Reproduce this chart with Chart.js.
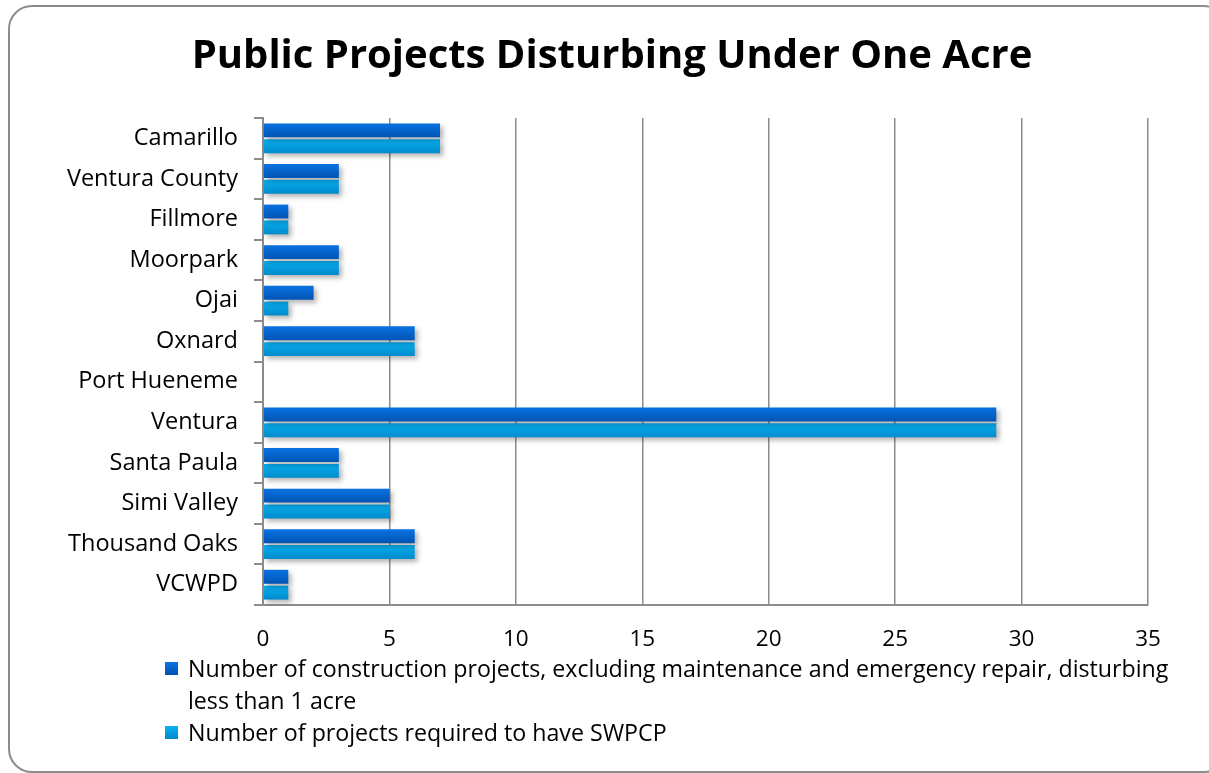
<!DOCTYPE html>
<html>
<head>
<meta charset="utf-8">
<script src="https://cdn.jsdelivr.net/npm/chart.js@4/dist/chart.umd.min.js"></script>
<style>
  html, body { margin: 0; padding: 0; background: #fff; overflow: hidden; }
  #wrap { position: relative; width: 1209px; height: 773px; }
  #frame {
    position: absolute; left: 8px; top: 5px; width: 1216px; height: 764px;
    border: 2px solid #8c8c8c; border-radius: 24px; pointer-events: none;
  }
  #legenda {
    position: absolute; left: 165px; top: 652px; width: 1040px;
    font-family: "Open Sans", "Noto Sans", sans-serif; font-size: 23.2px; color: #000; line-height: 32px;
  }
  .item { display: flex; align-items: flex-start; }
  .caixa { width: 13px; height: 13px; margin-top: 10px; margin-right: 10px; flex: none; }
</style>
</head>
<body>
<div id="wrap">
  <canvas id="Projetos"></canvas>
  <div id="frame"></div>
  <div id="legenda"></div>
</div>
<script>
document.addEventListener('DOMContentLoaded', function () {
var cidades = ["Camarillo", "Ventura County", "Fillmore", "Moorpark", "Ojai", "Oxnard",
    "Port Hueneme", "Ventura", "Santa Paula", "Simi Valley", "Thousand Oaks", "VCWPD"];
var projetosConstrucao = [7, 3, 1, 3, 2, 6, 0, 29, 3, 5, 6, 1];
var projetosSwpcp = [7, 3, 1, 3, 1, 6, 0, 29, 3, 5, 6, 1];
var rotuloConstrucao = "Number of construction projects, excluding maintenance and emergency repair, disturbing less than 1 acre";
var rotuloSwpcp = "Number of projects required to have SWPCP";

var catPct = 0.78;
var fonte = '"Open Sans", "Noto Sans", sans-serif';

// gradiente vertical por barra
function preenchimento(cima, baixo) {
    return function (ctx) {
        var chart = ctx.chart;
        var y = chart.scales.y;
        if (ctx.type !== 'data' || !y || !chart.chartArea) return cima;
        var cat = y.height / cidades.length;
        var centro = y.getPixelForValue(ctx.dataIndex);
        var metade = cat * catPct / 2;
        var y0 = ctx.datasetIndex === 0 ? centro - metade : centro;
        var g = chart.ctx.createLinearGradient(0, y0, 0, y0 + metade);
        g.addColorStop(0, cima);
        g.addColorStop(1, baixo);
        return g;
    };
}

var sombra = {
    id: 'sombra',
    beforeDatasetsDraw: function (chart) {
        var c = chart.ctx;
        c.save();
        c.shadowColor = 'rgba(0,0,0,0.3)';
        c.shadowBlur = 5;
        c.shadowOffsetX = 3;
        c.shadowOffsetY = 3;
    },
    afterDatasetsDraw: function (chart) {
        chart.ctx.restore();
    }
};

// o titulo no original fica um pouco mais a direita
var centraTitulo = {
    id: 'centraTitulo',
    afterLayout: function (chart) {
        if (chart.titleBlock) chart.titleBlock.left += 76;
    }
};

var contexto = document.getElementById('Projetos').getContext('2d');
var grafico = new Chart(contexto, {
    type: 'bar',
    data: {
        labels: cidades,
        datasets: [{
            label: rotuloConstrucao,
            data: projetosConstrucao,
            backgroundColor: preenchimento('#0a74e6', '#0052b0'),
            categoryPercentage: catPct,
            barPercentage: 0.88
        }, {
            label: rotuloSwpcp,
            data: projetosSwpcp,
            backgroundColor: preenchimento('#08b2f4', '#0088c8'),
            categoryPercentage: catPct,
            barPercentage: 0.88
        }]
    },
    plugins: [sombra, centraTitulo],
    options: {
        indexAxis: 'y',
        responsive: true,
        maintainAspectRatio: false,
        animation: false,
        layout: { padding: { left: 0, right: 61, top: 0, bottom: 118 } },
        plugins: {
            legend: { display: false },
            tooltip: { enabled: false },
            title: {
                display: true,
                text: "Public Projects Disturbing Under One Acre",
                color: '#000',
                font: { family: fonte, size: 40, weight: 'bold' },
                padding: { top: 33, bottom: 37 }
            }
        },
        scales: {
            x: {
                min: 0,
                max: 35,
                ticks: { stepSize: 5, color: '#000', padding: 21, font: { family: fonte, size: 22.5 } },
                grid: { color: '#8c8c8c', lineWidth: 1.5, drawTicks: false },
                border: { color: '#8c8c8c', width: 2 },
                afterFit: function (s) { s.height = 50; }
            },
            y: {
                ticks: { color: '#000', padding: 16, font: { family: fonte, size: 23.5 } },
                grid: { offset: true, drawOnChartArea: false, drawTicks: true, tickLength: 9, color: '#8c8c8c', lineWidth: 2 },
                border: { color: '#8c8c8c', width: 2 },
                afterFit: function (s) { s.width = 263; }
            }
        }
    }
});

// legenda em HTML por causa da quebra de linha
var legenda = document.getElementById('legenda');
[[rotuloConstrucao, '#0a74e6', '#0052b0'], [rotuloSwpcp, '#08b2f4', '#0088c8']].forEach(function (l, i) {
    var item = document.createElement('div');
    item.className = 'item';
    var caixa = document.createElement('span');
    caixa.className = 'caixa';
    caixa.style.background = 'linear-gradient(' + l[1] + ',' + l[2] + ')';
    var txt = document.createElement('span');
    if (i === 0) {
        txt.innerHTML = "Number of construction projects, excluding maintenance and emergency repair, disturbing<br>less than 1 acre";
    } else {
        txt.textContent = l[0];
    }
    item.appendChild(caixa);
    item.appendChild(txt);
    legenda.appendChild(item);
});
});
</script>
</body>
</html>
